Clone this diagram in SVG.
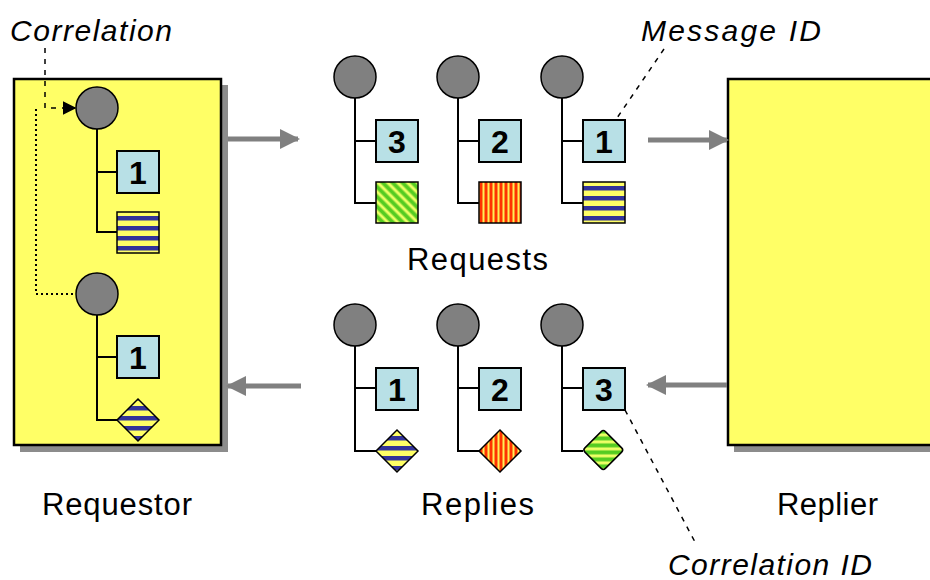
<svg xmlns="http://www.w3.org/2000/svg" width="930" height="580" viewBox="0 0 930 580">
<style>
.box{fill:#ffff66;stroke:#000;stroke-width:2.5}
.shadow{fill:#8c8c8c}
.dot{fill:#808080;stroke:#000;stroke-width:1.5}
.tree{fill:none;stroke:#000;stroke-width:2}
.num{fill:#b8e0e6;stroke:#000;stroke-width:2}
.ntext{font-family:"Liberation Sans",Arial,sans-serif;font-weight:bold;font-size:32px;text-anchor:middle;fill:#000}
.lbl{font-family:"Liberation Sans",Arial,sans-serif;font-size:31px;fill:#000}
.note{font-family:"Liberation Sans",Arial,sans-serif;font-style:italic;font-size:30px;fill:#000}
.flow{stroke:#808080;stroke-width:5;fill:none}
.dash{stroke:#000;stroke-width:1.5;fill:none;stroke-dasharray:5 6}
.dotted{stroke:#000;stroke-width:2;fill:none;stroke-dasharray:2 3}
.pat{stroke:#000;stroke-width:1.5}
</style>
<defs>
<pattern id="pBlue" width="10" height="10" patternUnits="userSpaceOnUse" y="1">
<rect width="10" height="10" fill="#ffff66"/><rect y="5" width="10" height="4.5" fill="#333399"/>
</pattern>
<pattern id="pRed" width="5" height="5" patternUnits="userSpaceOnUse">
<rect width="5" height="5" fill="#ff3300"/><rect x="2.5" width="2" height="5" fill="#ffee55"/>
</pattern>
<pattern id="pGreen" width="7" height="7" patternUnits="userSpaceOnUse" patternTransform="rotate(-45)">
<rect width="7" height="7" fill="#55cc22"/><rect x="3.5" width="3" height="7" fill="#eeff66"/>
</pattern>
<marker id="ah" viewBox="0 0 10 10" refX="9" refY="5" markerWidth="4" markerHeight="4.4" orient="auto" markerUnits="strokeWidth">
<path d="M0,0 L10,5 L0,10 Z" fill="#808080"/>
</marker>
<marker id="ahb" viewBox="0 0 10 10" refX="9" refY="5" markerWidth="9" markerHeight="9" orient="auto" markerUnits="strokeWidth">
<path d="M0,0 L10,5 L0,10 Z" fill="#000"/>
</marker>
</defs>

<g id="requestor">
<rect class="shadow" x="20" y="85" width="208" height="367"/>
<rect class="box" x="14" y="79" width="207" height="366"/>
</g>
<g id="replier">
<rect class="shadow" x="734" y="85" width="200" height="367"/>
<rect class="box" x="728" y="79" width="210" height="366"/>
</g>

<g id="requestor-msg-1">
<path class="tree" d="M97,128 V232 H117 M97,172 H117"/>
<circle class="dot" cx="97" cy="108" r="21"/>
<rect class="num" x="117" y="151" width="42" height="42"/>
<text class="ntext" x="138" y="184">1</text>
<rect class="pat" x="117" y="212" width="42" height="41" fill="url(#pBlue)"/>
</g>
<g id="requestor-msg-2">
<path class="tree" d="M97,314 V420 H117 M97,357 H117"/>
<circle class="dot" cx="97" cy="294" r="21"/>
<rect class="num" x="117" y="336" width="42" height="42"/>
<text class="ntext" x="138" y="369">1</text>
<path class="pat" d="M117,420 L138,399 L159,420 L138,441 Z" fill="url(#pBlue)"/>
</g>

<g id="request-3">
<path class="tree" d="M355,97 V203 H376 M355,141 H376"/>
<circle class="dot" cx="355" cy="77" r="21"/>
<rect class="num" x="376" y="120" width="42" height="42"/>
<text class="ntext" x="397" y="153">3</text>
<rect class="pat" x="376" y="182" width="42" height="41" fill="url(#pGreen)"/>
</g>
<g id="request-2">
<path class="tree" d="M458,97 V203 H479 M458,141 H479"/>
<circle class="dot" cx="458" cy="77" r="21"/>
<rect class="num" x="479" y="120" width="42" height="42"/>
<text class="ntext" x="500" y="153">2</text>
<rect class="pat" x="479" y="182" width="42" height="41" fill="url(#pRed)"/>
</g>
<g id="request-1">
<path class="tree" d="M562,97 V203 H583 M562,141 H583"/>
<circle class="dot" cx="562" cy="77" r="21"/>
<rect class="num" x="583" y="120" width="42" height="42"/>
<text class="ntext" x="604" y="153">1</text>
<rect class="pat" x="583" y="182" width="42" height="41" fill="url(#pBlue)"/>
</g>

<g id="reply-1">
<path class="tree" d="M355,345 V451 H376 M355,388 H376"/>
<circle class="dot" cx="355" cy="325" r="21"/>
<rect class="num" x="376" y="368" width="42" height="42"/>
<text class="ntext" x="397" y="401">1</text>
<path class="pat" d="M376,451 L397,430 L418,451 L397,472 Z" fill="url(#pBlue)"/>
</g>
<g id="reply-2">
<path class="tree" d="M458,345 V451 H479 M458,388 H479"/>
<circle class="dot" cx="458" cy="325" r="21"/>
<rect class="num" x="479" y="368" width="42" height="42"/>
<text class="ntext" x="500" y="401">2</text>
<path class="pat" d="M479,451 L500,430 L521,451 L500,472 Z" fill="url(#pRed)"/>
</g>
<g id="reply-3">
<path class="tree" d="M562,345 V451 H583 M562,388 H583"/>
<circle class="dot" cx="562" cy="325" r="21"/>
<rect class="num" x="583" y="368" width="42" height="42"/>
<text class="ntext" x="604" y="401">3</text>
<rect class="pat" x="589" y="435" width="29" height="29" rx="3" transform="rotate(-45 604 450)" fill="url(#pGreen)"/>
</g>

<g id="connectors">
<line class="flow" x1="228" y1="139" x2="298" y2="139" marker-end="url(#ah)"/>
<line class="flow" x1="648" y1="140" x2="727" y2="140" marker-end="url(#ah)"/>
<line class="flow" x1="727" y1="385" x2="648" y2="385" marker-end="url(#ah)"/>
<line class="flow" x1="301" y1="386" x2="228" y2="386" marker-end="url(#ah)"/>
<path class="dash" d="M45,48 V108 H75" marker-end="url(#ahb)"/>
<path class="dotted" d="M36,109 V294 H76"/>
<path class="dash" d="M664,49 L617,118"/>
<path class="dash" d="M625,410 L695,542"/>
</g>

<g id="labels">
<text class="lbl" x="407" y="270" textLength="141" lengthAdjust="spacing">Requests</text>
<text class="lbl" x="421" y="515" textLength="113" lengthAdjust="spacing">Replies</text>
<text class="lbl" x="42" y="515" textLength="150" lengthAdjust="spacing">Requestor</text>
<text class="lbl" x="777" y="515" textLength="101" lengthAdjust="spacing">Replier</text>
<text class="note" x="10" y="41" textLength="162" lengthAdjust="spacing">Correlation</text>
<text class="note" x="641" y="41" textLength="180" lengthAdjust="spacing">Message ID</text>
<text class="note" x="668" y="575" textLength="204" lengthAdjust="spacing">Correlation ID</text>
</g>
</svg>
